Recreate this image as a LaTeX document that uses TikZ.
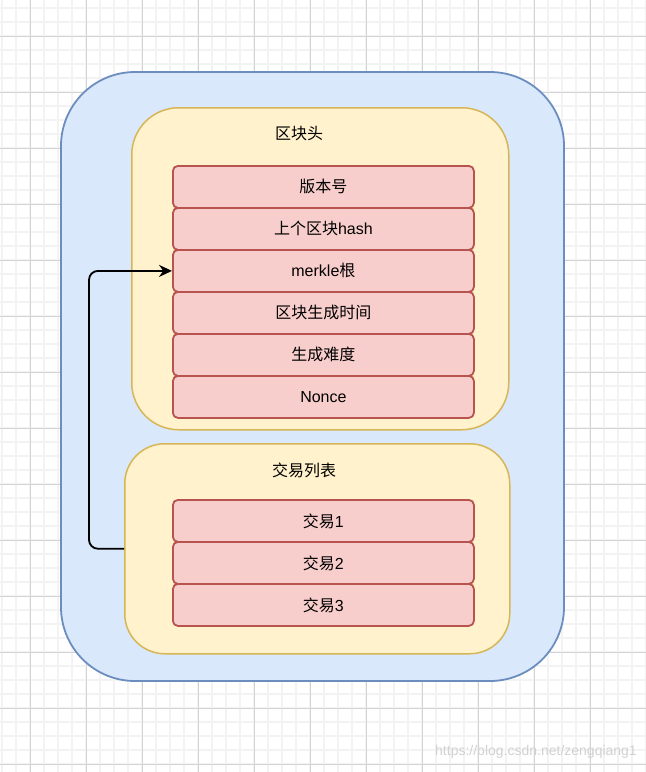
\documentclass[tikz,border=0pt]{standalone}
\usepackage{fontspec}
\setmainfont{Liberation Sans}
\newfontfamily\cjk{Noto Sans CJK SC}
\usetikzlibrary{arrows.meta}
\definecolor{bluefill}{HTML}{DAE8FC}
\definecolor{bluestroke}{HTML}{6C8EBF}
\definecolor{yelfill}{HTML}{FFF2CC}
\definecolor{yelstroke}{HTML}{D6B656}
\definecolor{redfill}{HTML}{F8CECC}
\definecolor{redstroke}{HTML}{B85450}
\definecolor{gridminor}{HTML}{F3F3F3}
\definecolor{gridmajor}{HTML}{D4D4D4}
\tikzset{
  outerbox/.style={draw=bluestroke, fill=bluefill, line width=1.8pt, rounded corners=74pt},
  headbox/.style={draw=yelstroke, fill=yelfill, line width=1.5pt},
  fieldbox/.style={draw=redstroke, fill=redfill, line width=1.8pt, rounded corners=5pt,
    minimum width=301pt, minimum height=42pt, inner sep=0pt, anchor=north west,
    font=\fontsize{16}{19}\selectfont},
  titletext/.style={font=\fontsize{16}{19}\selectfont, inner sep=0pt},
  link/.style={draw=black, line width=1.8pt, rounded corners=9pt, -{Stealth[length=13pt,width=12pt]}}
}
\begin{document}
\begin{tikzpicture}[x=1pt,y=-1pt]
\useasboundingbox (0,0) rectangle (646,772);
\fill[white] (0,0) rectangle (646,772);
% grid
\foreach \i in {0,...,46} {
  \draw[gridminor, line width=1.5pt] ({2+14*\i},0) -- ({2+14*\i},772);
}
\foreach \i in {0,...,55} {
  \draw[gridminor, line width=1.5pt] (0,{8+14*\i}) -- (646,{8+14*\i});
}
\foreach \i in {0,...,11} {
  \draw[gridmajor, line width=1pt] ({30+56*\i},0) -- ({30+56*\i},772);
}
\foreach \i in {0,...,13} {
  \draw[gridmajor, line width=1pt] (0,{36+56*\i}) -- (646,{36+56*\i});
}
% outer block
\draw[outerbox] (61,72) rectangle (564,681);
% header container
\node[headbox, rounded corners=47pt, minimum width=377pt, minimum height=322pt, anchor=north west, inner sep=0pt] (header) at (131,107) {};
\node[titletext] (headertitle) at (299,134) {\cjk 区块头};
\node[fieldbox] (version) at (172,165) {\cjk 版本号};
\node[fieldbox] (prevhash) at (172,207) {{\cjk 上个区块}hash};
\node[fieldbox] (merkle) at (172,249) {merkle{\cjk 根}};
\node[fieldbox] (time) at (172,291) {\cjk 区块生成时间};
\node[fieldbox] (difficulty) at (172,333) {\cjk 生成难度};
\node[fieldbox] (nonce) at (172,375) {Nonce};
% transaction list container
\node[headbox, rounded corners=40pt, minimum width=385pt, minimum height=210pt, anchor=north west, inner sep=0pt] (txlist) at (124,443) {};
\node[titletext] (txtitle) at (304,470) {\cjk 交易列表};
\node[fieldbox] (tx1) at (172,499) {{\cjk 交易}1};
\node[fieldbox] (tx2) at (172,541) {{\cjk 交易}2};
\node[fieldbox] (tx3) at (172,583) {{\cjk 交易}3};
% connector
\draw[link] (txlist.west) -- ++(-35,0) |- (merkle.west);
% watermark
\node[font=\fontsize{14}{16}\selectfont, text=black!18, inner sep=0pt, anchor=east] (wm) at (637,752) {https://blog.csdn.net/zengqiang1};
\end{tikzpicture}
\end{document}
